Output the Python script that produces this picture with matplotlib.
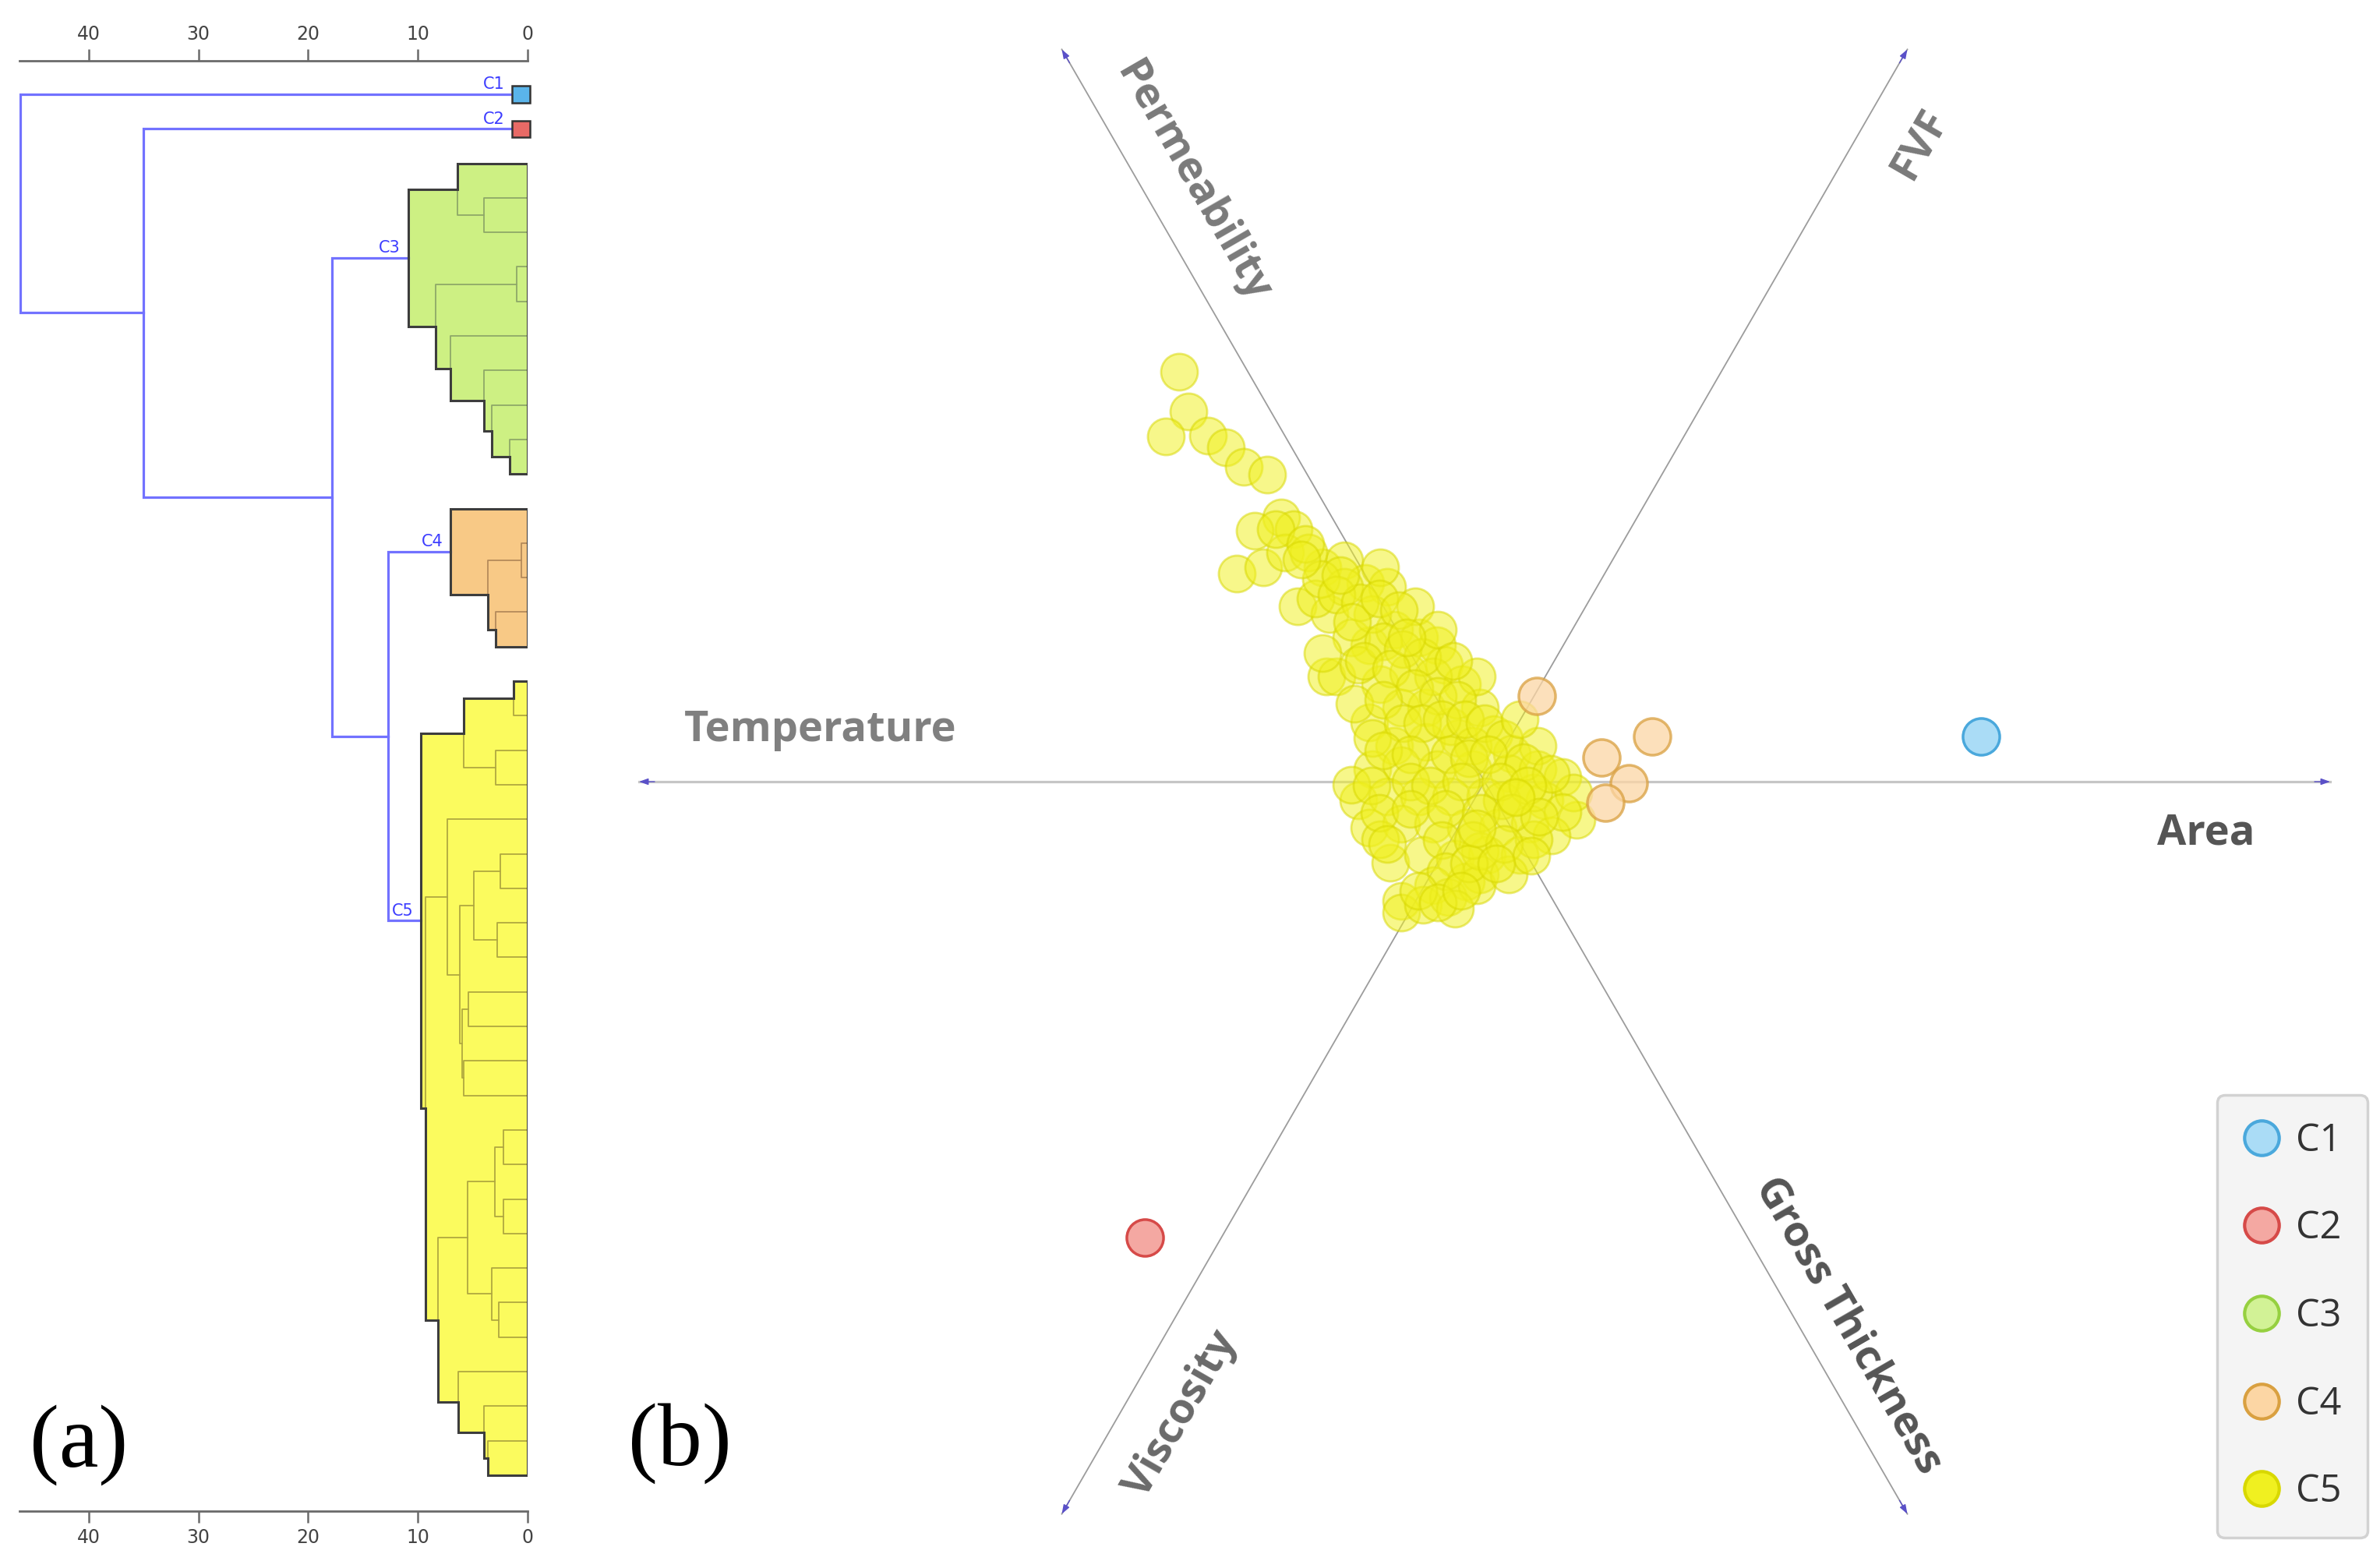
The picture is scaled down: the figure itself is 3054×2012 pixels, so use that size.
import numpy as np
import matplotlib
matplotlib.use('Agg')
import matplotlib.pyplot as plt
from matplotlib.patches import Polygon, Rectangle
from matplotlib.lines import Line2D

W, H = 3054, 2012
DPI = 100

# ---------------- (a) dendrogram data ----------------
# nested [height, upper child, lower child]; None is a single object
C3_TREE = [10.9, [6.4, None, [4.0, None, None]],
           [8.4, [1.0, None, None],
            [7.0, None, [4.0, None, [3.3, None, [1.6, None, None]]]]]]
C4_TREE = [7.0, None, [3.6, [0.6, None, None], [2.9, None, None]]]
C5_TREE = [9.7,
           [5.8, [1.3, None, None], [2.9, None, None]],
           [9.3,
            [7.3, None, [6.2, [4.9, [2.5, None, None], [2.8, None, None]],
                         [6.0, [5.4, None, None], [5.8, None, None]]]],
            [8.2, [5.5, [3.0, [2.2, None, None], [2.2, None, None]],
                   [3.3, None, [2.6, None, None]]],
             [6.3, None, [4.0, None, [3.6, None, None]]]]]]
CLUSTERS = ['C1', 'C2', 'C3', 'C4', 'C5']
CLUSTER_TREES = [None, None, C3_TREE, C4_TREE, C5_TREE]
# links above the cut between the classes
TOP_TREE = [46.2, 'C1', [35.0, 'C2', [17.8, 'C3', [12.7, 'C4', 'C5']]]]
DIST_TICKS = [0, 10, 20, 30, 40]

# ---------------- (b) biplot data ----------------
C5_F1 = [-3.92, -3.80, -4.09, -3.55, -3.32, -3.09, -2.79, -2.61, -2.95, -2.45,
         -3.18, -2.84, -2.56, -2.40, -2.08, -1.80, -1.99, -1.53, -1.25, -1.48,
         -1.71, -2.03, -1.16, -0.84, -0.61, -1.34, -0.98, -0.52, -0.29, -1.48,
         -1.07, -0.75, -0.06, -1.16, -0.75, -0.33, 0.12, 0.35, -1.44, -1.07,
         -0.61, -0.15, 0.31, 0.68, 1.00, -1.62, -1.25, -0.84, -0.43, 0.01,
         0.40, 0.77, 1.18, -1.48, -1.07, -0.66, -0.24, 0.17, 0.58, 0.86,
         -1.21, -0.79, -0.38, 0.03, 0.45, -1.07, -0.66, -0.24, -0.06, -1.07,
         -0.79, -0.47, -1.34, -1.71, 0.63, -1.80, -2.26, -2.68, -2.17, -1.90,
         -1.67, -1.44, -0.43, -0.15, 0.22, -0.10, 0.63, 1.14, -0.06, -1.62,
         -1.44, -0.89, -0.66, -0.10, -1.34, 0.31, -0.38, 0.68, 1.00, -2.08,
         -2.30, -2.10, -1.90, -1.60, -1.70, -1.35, -1.10, -1.30, -1.05, -0.80,
         -1.55, -1.20, -0.90, -0.60, -0.35, -1.30, -1.05, -0.80, -0.55, -0.25,
         0.00, 0.25, -1.30, -0.95, -0.45, -0.20, 0.05, 0.50, 0.85, -1.45,
         -0.95, -0.70, -0.30, 0.20, 0.55, -1.35, -0.95, -0.50, -0.05, 0.35,
         0.70, -1.25, -0.55, -0.15, 0.25, 0.60, -0.50, -0.20, 0.15, -0.85,
         -0.60, -0.30, -2.35, -1.85, -0.60, -0.40, 0.45, -1.00, -0.10, 0.40]
C5_F2 = [5.26, 4.75, 4.43, 4.44, 4.29, 4.04, 3.94, 3.39, 3.22, 3.24,
         2.67, 2.75, 2.94, 2.25, 2.75, 2.84, 2.15, 2.55, 2.50, 1.75,
         1.85, 1.35, 1.95, 1.85, 1.75, 1.25, 1.40, 1.50, 1.25, 0.76,
         0.95, 0.95, 0.95, 0.46, 0.51, 0.56, 0.61, 0.36, 0.16, 0.21,
         0.16, 0.16, 0.11, 0.16, 0.06, -0.24, -0.19, -0.19, -0.19, -0.19,
         -0.19, -0.24, -0.49, -0.59, -0.54, -0.54, -0.59, -0.59, -0.54, -0.69,
         -1.04, -0.94, -0.99, -0.94, -0.94, -1.53, -1.33, -1.28, -1.19, -1.68,
         -1.58, -1.48, -0.74, -0.04, -0.14, 2.50, 2.94, 3.24, 2.35, 1.35,
         1.00, 0.56, 0.71, 0.46, -0.24, -1.33, -0.74, -0.14, -0.89, 1.50,
         2.15, 2.25, 1.35, 1.35, 2.75, -1.19, -1.63, 0.46, -0.39, 1.65,
         3.05, 2.60, 2.40, 2.30, 2.05, 2.35, 2.20, 1.80, 1.70, 1.60,
         1.55, 1.45, 1.20, 1.10, 1.05, 1.05, 0.75, 0.75, 0.80, 0.80,
         0.75, 0.55, 0.40, 0.35, 0.35, 0.30, 0.35, 0.25, 0.10, -0.05,
         0.00, -0.05, 0.00, 0.00, -0.05, -0.40, -0.35, -0.35, -0.40, -0.40,
         -0.45, -0.80, -0.75, -0.75, -0.80, -0.95, -1.15, -1.05, -1.05, -1.40,
         -1.55, -1.40, 2.85, 2.65, 1.95, 1.55, 0.80, 1.85, -0.60, -0.20]
C4_F1 = [0.67, 1.50, 2.15, 1.85, 1.55]
C4_F2 = [1.10, 0.31, 0.58, -0.02, -0.27]
C1_F1, C1_F2 = [6.37], [0.58]
C2_F1, C2_F2 = [-4.36], [-5.85]

VARIABLES = ['Area', 'FVF', 'Permeability', 'Temperature', 'Viscosity', 'Gross Thickness']
VAR_ANGLES = [0, 60, 120, 180, 240, 300]
VAR_LABEL_ALONG = [9.26, 9.88, 8.54, 8.52, 8.98, 8.38]
VAR_LABEL_SIDE = [-0.66, -0.75, -0.60, -0.66, 0.69, 0.55]
VAR_COLORS = ['#555555', '#7a7a7a', '#7a7a7a', '#808080', '#6a6a6a', '#555555']
AXIS_LEN = 10.85

FILL = {'C1': '#5ab4ea', 'C2': '#e86a66', 'C3': '#cdf083', 'C4': '#f8c986', 'C5': '#fbfb5e'}
INNER = {'C3': '#8ea868', 'C4': '#b58a5a', 'C5': '#b0a840'}
PT_FACE = {'C1': '#aadcf6', 'C2': '#f4a8a2', 'C3': '#d2f296', 'C4': '#fcd6a4', 'C5': '#f0f020'}
PT_EDGE = {'C1': '#4aa8dc', 'C2': '#d64a48', 'C3': '#96d040', 'C4': '#d9a040', 'C5': '#d8d800'}
BLUE = '#7272ff'


def layout(t, start, links, rects):
    if t is None:
        return start, 0.0, start + 1
    y1, h1, nxt = layout(t[1], start, links, rects)
    y2, h2, nxt = layout(t[2], nxt, links, rects)
    h = t[0]
    links.append(([h1, h, h, h2], [y1, y1, y2, y2]))
    rects.append((h, y1, y2))
    return (y1 + y2) / 2, h, nxt


def outline(rects):
    edges = sorted(set([y for r in rects for y in r[1:]]))
    xs, ys = [0], [edges[0]]
    for a, b in zip(edges[:-1], edges[1:]):
        m = (a + b) / 2
        w = max(r[0] for r in rects if r[1] <= m <= r[2])
        xs += [w, w]
        ys += [a, b]
    xs.append(0)
    ys.append(edges[-1])
    return np.column_stack([xs, ys])


fig = plt.figure(figsize=(W / DPI, H / DPI), dpi=DPI)

# ================= (a) =================
ax_a = fig.add_axes([25 / W, 1 - 1939 / H, (677 - 25) / W, (1939 - 78) / H])
ax_a.set_xlim(46.3, 0)
ax_a.set_ylim(41.04, -0.97)

pos = {}
start = 0
BOX_W = 1.4
for name, tree in zip(CLUSTERS, CLUSTER_TREES):
    if tree is None:
        ax_a.add_patch(Rectangle((-0.2, start - 0.24), BOX_W + 0.2, 0.48,
                                 facecolor=FILL[name], edgecolor='#333333',
                                 lw=1.8, clip_on=False, zorder=4))
        pos[name] = (start, BOX_W)
        start += 1
        continue
    links, rects = [], []
    yc, hc, start = layout(tree, start, links, rects)
    pts = outline(rects)
    ax_a.add_patch(Polygon(pts, closed=True, facecolor=FILL[name],
                           edgecolor='none', zorder=2))
    for lx, ly in links:
        ax_a.plot(lx, ly, color=INNER[name], lw=1.3, zorder=3)
    ax_a.add_patch(Polygon(pts, closed=True, facecolor='none',
                           edgecolor='#3d3d3d', lw=2.2, zorder=4))
    pos[name] = (yc, hc)


def top_links(t):
    if isinstance(t, str):
        return pos[t]
    ya, ha = top_links(t[1])
    yb, hb = top_links(t[2])
    ax_a.plot([ha, t[0], t[0], hb], [ya, ya, yb, yb], color=BLUE, lw=2.3,
              zorder=3, solid_joinstyle='miter')
    return (ya + yb) / 2, t[0]


top_links(TOP_TREE)
for name in CLUSTERS:
    yc, hc = pos[name]
    ax_a.text(hc + 0.7, yc - 0.06, name, color='#3c3cff', fontsize=15,
              ha='right', va='bottom', zorder=5)

for s in ['left', 'right']:
    ax_a.spines[s].set_visible(False)
for s in ['top', 'bottom']:
    ax_a.spines[s].set_color('#6a6a6a')
    ax_a.spines[s].set_linewidth(2)
ax_a.set_yticks([])
ax_a.set_xticks(DIST_TICKS)
ax_a.tick_params(axis='x', top=True, bottom=True, labeltop=True,
                 labelbottom=True, direction='out', length=11, width=1.8,
                 color='#6a6a6a', labelcolor='#444444', labelsize=17, pad=5)
ax_a.set_facecolor('none')

fig.text(101 / W, 1 - 1854 / H, '(a)', fontsize=82, family='Liberation Serif',
         ha='center', va='center')
fig.text(872 / W, 1 - 1852 / H, '(b)', fontsize=82, family='Liberation Serif',
         ha='center', va='center')

# ================= (b) =================
ax_b = fig.add_axes([700 / W, 0, (W - 700) / W, 1])
ax_b.set_xlim((700 - 1905) / 100, (W - 1905) / 100)
ax_b.set_ylim((1003 - H) / 100, 1003 / 100)
ax_b.axis('off')

for i, (name, ang) in enumerate(zip(VARIABLES, VAR_ANGLES)):
    d = np.array([np.cos(np.radians(ang)), np.sin(np.radians(ang))])
    nrm = np.array([-d[1], d[0]])
    tip = AXIS_LEN * d
    if ang in (0, 180):
        ax_b.plot([0, tip[0]], [0, tip[1]], color='#c6c6c6', lw=2.3, zorder=1)
    else:
        ax_b.plot([0, tip[0]], [0, tip[1]], color='#9c9c9c', lw=1.3, zorder=1)
    ax_b.annotate('', xy=tip, xytext=tip - 0.2 * d,
                  arrowprops=dict(arrowstyle='-|>,head_length=0.7,head_width=0.25',
                                  color='#5a50c8', lw=1.0, shrinkA=0, shrinkB=0))
    lp = VAR_LABEL_ALONG[i] * d + VAR_LABEL_SIDE[i] * nrm
    rot = ang if ang <= 90 else ang - 180
    if ang > 270:
        rot = ang - 360
    ax_b.text(lp[0], lp[1], name, rotation=rot, rotation_mode='anchor',
              ha='center', va='center', fontsize=39, fontweight='bold',
              family=['Open Sans', 'DejaVu Sans'], color=VAR_COLORS[i])

S = 1150
ax_b.scatter(C5_F1, C5_F2, s=S, facecolor=PT_FACE['C5'], edgecolor=PT_EDGE['C5'],
             lw=2, alpha=0.52, zorder=3)
ax_b.scatter(C4_F1, C4_F2, s=S, facecolor=PT_FACE['C4'], edgecolor=PT_EDGE['C4'],
             lw=2.5, alpha=0.75, zorder=4)
ax_b.scatter(C1_F1, C1_F2, s=S, facecolor=PT_FACE['C1'], edgecolor=PT_EDGE['C1'],
             lw=2.5, zorder=4)
ax_b.scatter(C2_F1, C2_F2, s=S, facecolor=PT_FACE['C2'], edgecolor=PT_EDGE['C2'],
             lw=2.5, zorder=4)

handles = [Line2D([], [], ls='', marker='o', ms=32, mfc=PT_FACE[c],
                  mec=PT_EDGE[c], mew=3) for c in CLUSTERS]
leg = ax_b.legend(handles, CLUSTERS, loc='upper left',
                  bbox_to_anchor=(2845 / W, 1 - 1405 / H),
                  bbox_transform=fig.transFigure,
                  prop={'family': 'Open Sans', 'size': 35},
                  frameon=True, fancybox=True, facecolor='#f4f4f4',
                  edgecolor='#d2d2d2', framealpha=1, borderpad=0.7,
                  labelspacing=1.3, handlelength=0.95, handletextpad=0.42,
                  borderaxespad=0)
leg.get_frame().set_linewidth(2.5)
for t in leg.get_texts():
    t.set_color('#333333')

fig.savefig('out.png', dpi=DPI)
